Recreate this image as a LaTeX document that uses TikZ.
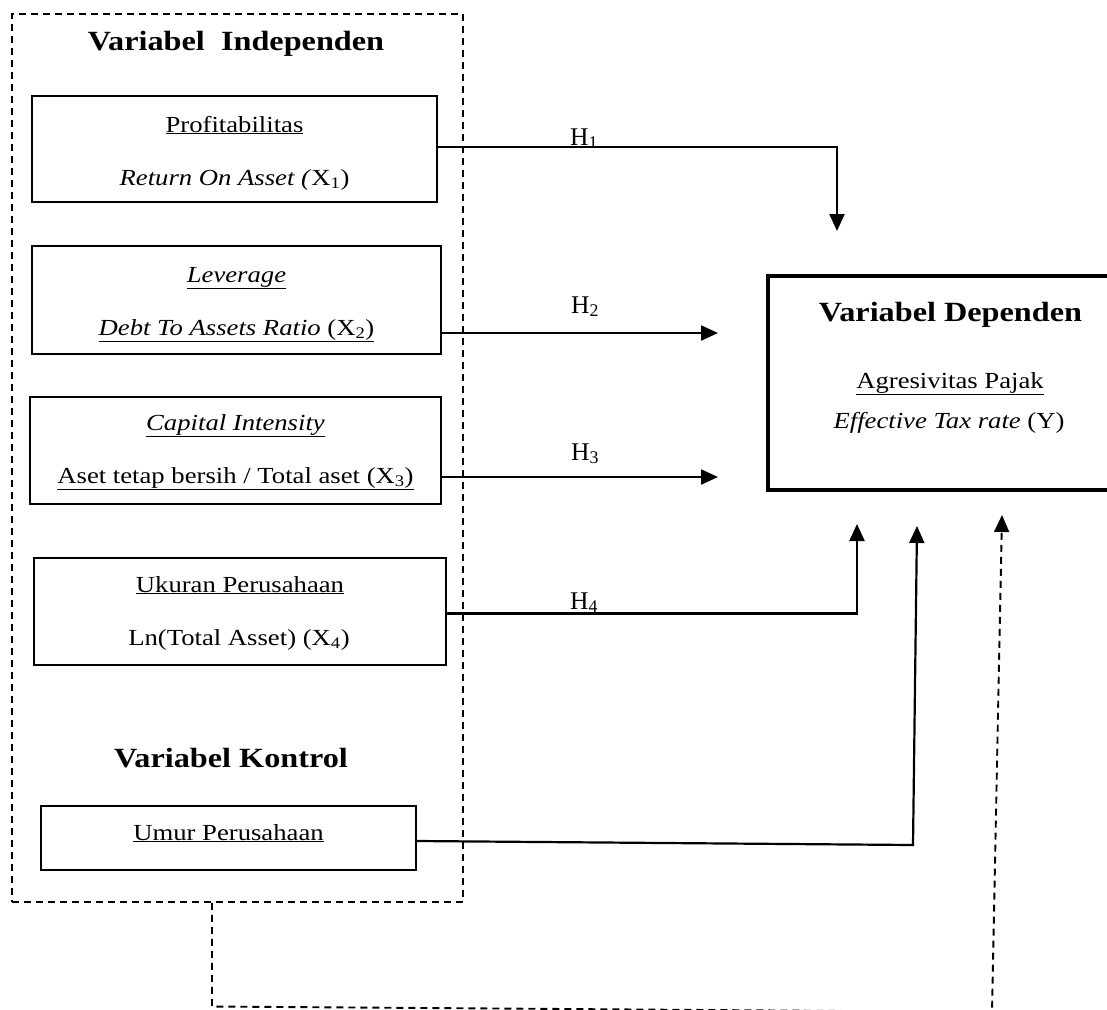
\documentclass[tikz,border=0pt]{standalone}
\usepackage{fontspec}
\setmainfont{Liberation Serif}[FakeStretch=1.16]
\newfontfamily\hfont{Liberation Serif}
\usetikzlibrary{arrows.meta,calc}
\tikzset{
  varbox/.style={draw, rectangle, line width=1.5pt, inner sep=0pt},
  depbox/.style={draw, rectangle, line width=4.2pt, inner sep=0pt},
  outerbox/.style={draw, rectangle, line width=1.7pt, dash pattern=on 7pt off 5pt, inner sep=0pt},
  txt/.style={anchor=base, inner sep=0pt, font=\fontsize{23}{27}\selectfont},
  hlab/.style={anchor=base, inner sep=0pt, font=\hfont\fontsize{25.5}{30}\selectfont},
  ttl/.style={anchor=base, inner sep=0pt, font=\fontsize{27.8}{33}\selectfont\bfseries},
  arr/.style={line width=2.2pt, -{Triangle[length=17pt,width=15pt]}},
  dsharr/.style={line width=1.9pt, dash pattern=on 7pt off 5pt, -{Triangle[length=17pt,width=15pt]}}
}
\begin{document}
\begin{tikzpicture}[x=1pt,y=-1pt]
\useasboundingbox (0,0) rectangle (1107,1009);
\clip (0,0) rectangle (1107,1009);

% outer dashed frame
\node[outerbox, minimum width=451pt, minimum height=888pt] (outer) at (237.5,458) {};

% titles
\node[ttl] (tind) at (236,50) {Variabel\ \ Independen};
\node[ttl] (tkon) at (231,767) {Variabel Kontrol};

% independent boxes
\node[varbox, minimum width=405pt, minimum height=106pt] (box1) at (234.5,149) {};
\node[txt] (b1a) at (234.5,132) {\underline{Profitabilitas}};
\node[txt] (b1b) at (234.5,185) {\textit{Return On Asset (}X\textsubscript{1})};

\node[varbox, minimum width=409pt, minimum height=108pt] (box2) at (236.5,300) {};
\node[txt] (b2a) at (236.5,282) {\underline{\textit{Leverage}}};
\node[txt] (b2b) at (236.5,335) {\underline{\textit{Debt To Assets Ratio} (X\textsubscript{2})}};

\node[varbox, minimum width=411pt, minimum height=107pt] (box3) at (235.5,450.5) {};
\node[txt] (b3a) at (235.5,430) {\underline{\textit{Capital Intensity}}};
\node[txt] (b3b) at (235.5,483) {\underline{Aset tetap bersih / Total aset (X\textsubscript{3})}};

\node[varbox, minimum width=412pt, minimum height=107pt] (box4) at (240,611.5) {};
\node[txt] (b4a) at (240,592) {\underline{Ukuran Perusahaan}};
\node[txt] (b4b) at (239,645) {Ln(Total Asset) (X\textsubscript{4})};

\node[varbox, minimum width=375pt, minimum height=64pt] (box5) at (228.5,838) {};
\node[txt] (b5a) at (228.5,840) {\underline{Umur Perusahaan}};

% dependent box (runs off the right edge)
\node[depbox, minimum width=361pt, minimum height=214pt] (dep) at (948.5,383) {};
\node[ttl] (tdep) at (950.5,321) {Variabel Dependen};
\node[txt] (da) at (950,388) {\underline{Agresivitas Pajak}};
\node[txt] (db) at (949,428) {\textit{Effective Tax rate} (Y)};

% arrow tips
\coordinate (t1) at (837,231);
\coordinate (t2) at (718,333);
\coordinate (t3) at (718,477);
\coordinate (t4) at (857,524);
\coordinate (c5) at (913,845);
\coordinate (t5) at (917,526);
\coordinate (d1) at (212,1006.5);
\coordinate (d2) at (992,1012);
\coordinate (t6) at (1002,515);

% connectors
\draw[arr] ([yshift=2pt]box1.east) -- ([yshift=2pt]box1.east -| t1) -- (t1);
\draw[arr] (box2.east |- t2) -- (t2);
\draw[arr] (box3.east |- t3) -- (t3);
\draw[arr] ([yshift=-2pt]box4.east) -- ([yshift=-2pt]box4.east -| t4) -- (t4);
\draw[arr] ([yshift=-3pt]box5.east) -- (c5) -- (t5);
\draw[dsharr] (outer.south -| d1) -- (d1) -- (d2) -- (t6);

% hypothesis labels
\node[hlab] (h1) at (584,145) {H\textsubscript{1}};
\node[hlab] (h2) at (585,313) {H\textsubscript{2}};
\node[hlab] (h3) at (585,460) {H\textsubscript{3}};
\node[hlab] (h4) at (584,609) {H\textsubscript{4}};
\end{tikzpicture}
\end{document}
